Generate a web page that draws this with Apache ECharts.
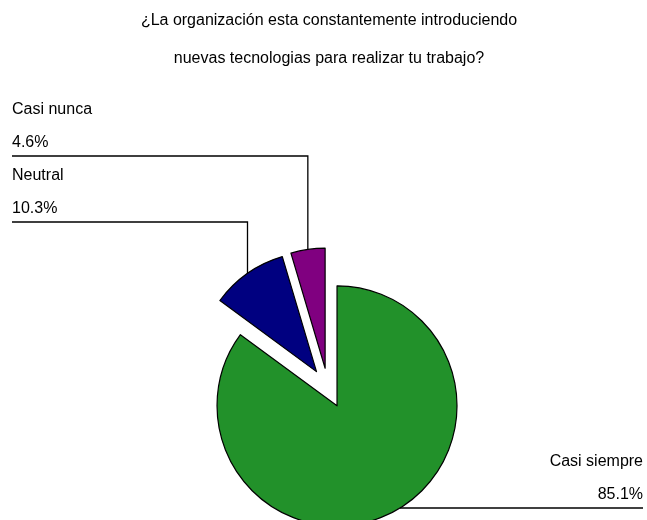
<!DOCTYPE html>
<html>
<head>
<meta charset="utf-8">
<script src="https://cdn.jsdelivr.net/npm/echarts@6/dist/echarts.min.js"></script>
<style>
  html, body { margin: 0; padding: 0; background: #fff; }
  #chart { width: 647px; height: 520px; }
</style>
</head>
<body>
<div id="chart"></div>
<script>
const titleLines = [
  '¿La organización esta constantemente introduciendo',
  'nuevas tecnologias para realizar tu trabajo?'
];
const categories = ['Casi siempre', 'Neutral', 'Casi nunca'];
const shares = [85.1, 10.3, 4.6];
const sliceColors = ['#22912a', '#000080', '#800080'];

// where each label sits and where its underline runs (layout only)
const labelSpots = [
  {x: 643, lineY: 508, align: 'right'},
  {x: 12, lineY: 222, align: 'left'},
  {x: 12, lineY: 156, align: 'left'}
];

const pieCenter = [328, 388];
const pieRadius = 120;
const explode = 20;
const total = shares.reduce((a, b) => a + b, 0);
const font = '16px "Liberation Sans", Arial, sans-serif';

function midAngle(i) {
  let before = 0;
  for (let k = 0; k < i; k++) before += shares[k];
  return (before + shares[i] / 2) / total * 2 * Math.PI;
}

// leader line: from the slice's outer arc up/down to the underline, then along it
function leaderPoints(i) {
  const s = labelSpots[i];
  const mid = midAngle(i);
  const cx = pieCenter[0] + explode * Math.sin(mid);
  const cy = pieCenter[1] - explode * Math.cos(mid);
  let a = [cx + pieRadius * Math.sin(mid), cy - pieRadius * Math.cos(mid)];
  if (Math.abs(a[1] - s.lineY) < 12) {
    // underline crosses the arc: start where it meets the edge
    const dy = s.lineY - cy;
    const dx = Math.sqrt(Math.max(0, pieRadius * pieRadius - dy * dy));
    const ex = s.align === 'right' ? cx + dx : cx - dx;
    return [[ex, s.lineY], [s.x, s.lineY]];
  }
  return [a, [a[0], s.lineY], [s.x, s.lineY]];
}

// labels + leader lines (series labels ignore custom x/y in v6)
const labelGraphics = [];
categories.forEach((name, i) => {
  const s = labelSpots[i];
  labelGraphics.push({
    type: 'polyline',
    z: 10,
    shape: {points: leaderPoints(i)},
    style: {stroke: '#000', lineWidth: 1.3, fill: null}
  });
  labelGraphics.push({
    type: 'text',
    z: 10,
    style: {
      text: name + '\n' + shares[i] + '%',
      x: s.x,
      y: s.lineY + 3,
      font: font,
      fill: '#000',
      lineHeight: 33,
      align: s.align,
      verticalAlign: 'bottom',
      textAlign: s.align,
      textVerticalAlign: 'bottom'
    }
  });
});

const chart = echarts.init(document.getElementById('chart'), null, {renderer: 'canvas'});

const option = {
  backgroundColor: '#ffffff',
  animation: false,
  title: {
    text: titleLines.join('\n'),
    left: 329,
    top: 2,
    padding: 0,
    textAlign: 'center',
    textStyle: {
      fontFamily: 'Liberation Sans, Arial, sans-serif',
      fontSize: 16,
      fontWeight: 'normal',
      color: '#000',
      lineHeight: 38
    }
  },
  graphic: labelGraphics,
  series: [
    {
      type: 'pie',
      center: pieCenter,
      radius: pieRadius,
      startAngle: 90,
      clockwise: true,
      selectedMode: 'multiple',
      selectedOffset: explode,
      itemStyle: {
        borderColor: '#000',
        borderWidth: 1.2
      },
      label: {show: false},
      labelLine: {show: false},
      emphasis: {disabled: true},
      data: categories.map((name, i) => ({
        name: name,
        value: shares[i],
        selected: true,
        itemStyle: {color: sliceColors[i]},
        select: {itemStyle: {color: sliceColors[i], borderColor: '#000', borderWidth: 1.2}}
      }))
    }
  ]
};

chart.setOption(option);
</script>
</body>
</html>
